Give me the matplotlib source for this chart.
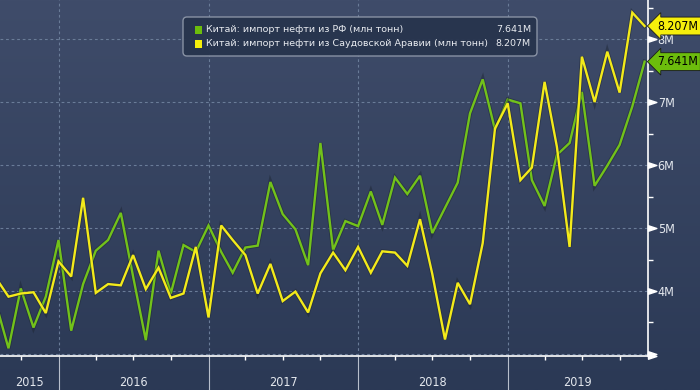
import numpy as np
import pandas as pd
import matplotlib
matplotlib.use("Agg")
import matplotlib.pyplot as plt
import matplotlib.dates as mdates
import matplotlib.patheffects as pe
from matplotlib import font_manager
from matplotlib.patches import FancyBboxPatch, Rectangle
from matplotlib.path import Path
from matplotlib.transforms import blended_transform_factory, IdentityTransform

plt.rcParams['font.family'] = ['DejaVu Sans']
has_cond = any(f.name == 'DejaVu Sans' and str(f.stretch) in ('condensed', 'semi-condensed', '300', '400')
               and str(f.stretch) != 'normal' for f in font_manager.fontManager.ttflist)
if has_cond:
    AX_FONT = dict(family='DejaVu Sans', stretch='condensed')
    AX_SIZE, TAG_SIZE = 9, 8.8
else:
    AX_FONT = dict(family='DejaVu Sans')
    AX_SIZE, TAG_SIZE = 8.5, 7.8

# ---------------- data ----------------
months = pd.date_range('2015-08-01', '2019-12-01', freq='MS')
russia = [3.81, 3.09, 4.04, 3.42, 3.91,
          4.81, 3.37, 4.11, 4.64, 4.81, 5.24, 4.23, 3.22, 4.64, 3.96, 4.73, 4.62,
          5.04, 4.62, 4.29, 4.69, 4.72, 5.73, 5.22, 4.98, 4.41, 6.35, 4.65, 5.11,
          5.03, 5.58, 5.05, 5.80, 5.54, 5.83, 4.92, 5.32, 5.72, 6.82, 7.36, 6.56,
          7.04, 6.98, 5.76, 5.35, 6.16, 6.35, 7.16, 5.67, 5.99, 6.32, 6.93, 7.641]
saudi = [4.21, 3.91, 3.96, 3.98, 3.65,
         4.47, 4.23, 5.48, 3.97, 4.11, 4.09, 4.57, 4.03, 4.37, 3.89, 3.96, 4.70,
         3.58, 5.04, 4.81, 4.57, 3.96, 4.43, 3.84, 3.99, 3.66, 4.28, 4.61, 4.33,
         4.70, 4.29, 4.63, 4.61, 4.40, 5.14, 4.27, 3.23, 4.13, 3.79, 4.76, 6.58,
         6.98, 5.76, 5.96, 7.32, 6.29, 4.70, 7.72, 7.00, 7.80, 7.15, 8.42, 8.207]
series_names = ['Китай: импорт нефти из РФ (млн тонн)',
                'Китай: импорт нефти из Саудовской Аравии (млн тонн)']
series_colors = ['#72c21a', '#f3ea1a']
tag_colors = ['#6cbd0c', '#f6ef0c']
year_labels = ['2015', '2016', '2017', '2018', '2019']
ytick_vals = [3, 4, 5, 6, 7, 8]
ytick_labels = ['', '4M', '5M', '6M', '7M', '8M']

W, H = 700, 390
fig = plt.figure(figsize=(W / 100, H / 100), dpi=100)

# gradient background
bg = fig.add_axes([0, 0, 1, 1], zorder=-10)
grad = np.linspace(0, 1, 256).reshape(-1, 1)
top = np.array([0x3f, 0x4c, 0x6a]) / 255
bot = np.array([0x2b, 0x39, 0x55]) / 255
img = top[None, None, :] * (1 - grad[:, :, None]) + bot[None, None, :] * grad[:, :, None]
bg.imshow(img, aspect='auto', extent=[0, 1, 0, 1])
bg.axis('off')

ax_right_px, ax_bottom_px = 648, 356
ax = fig.add_axes([0, (H - ax_bottom_px) / H, ax_right_px / W, ax_bottom_px / H])
ax.set_facecolor('none')

# x scale: Jan 2016 at px 58.5, 149.7 px per year
d2016 = mdates.date2num(pd.Timestamp('2016-01-01'))
ppd = 149.7 / 365.25
xl0 = d2016 - 58.5 / ppd
xl1 = d2016 + (648 - 58.5) / ppd
ax.set_xlim(xl0, xl1)
ax.set_ylim(2.968, 8.62)

x = mdates.date2num(months)
for vals, col in zip([russia, saudi], series_colors):
    ax.plot(x, vals, color=col, lw=1.7, solid_joinstyle='miter', zorder=3,
            path_effects=[pe.Stroke(linewidth=3.0, foreground='#1c2430', alpha=0.45), pe.Normal()])

# grid
grid_kw = dict(color='#6a7c98', lw=0.8, ls=(0, (2.5, 2.5)), zorder=1)
for v in ytick_vals:
    ax.axhline(v, **grid_kw)
year_starts = [mdates.date2num(pd.Timestamp(f'{y}-01-01')) for y in range(2015, 2021)]
for ys in year_starts[1:-1]:
    ax.axvline(ys, **grid_kw)

# spines
for s in ['top', 'left']:
    ax.spines[s].set_visible(False)
for s in ['right', 'bottom']:
    ax.spines[s].set_color('white')
    ax.spines[s].set_linewidth(1.2)

# y axis on right
ax.yaxis.tick_right()
ax.set_yticks(ytick_vals)
ax.set_yticklabels(ytick_labels, **AX_FONT)
ax.set_yticks(np.arange(3.5, 8.6, 1.0), minor=True)
ax.tick_params(axis='y', which='major', length=0, pad=7, labelsize=AX_SIZE, labelcolor='#e4e8ee')
ax.tick_params(axis='y', which='minor', length=3.5, width=1, color='white', direction='out')

tri = Path([(0, -0.33), (1.0, 0), (0, 0.33), (0, -0.33)],
           [Path.MOVETO, Path.LINETO, Path.LINETO, Path.CLOSEPOLY])
btr = blended_transform_factory(ax.transAxes, ax.transData)
ax.plot([1.0] * len(ytick_vals), ytick_vals, ls='none', marker=tri, ms=12,
        color='white', transform=btr, clip_on=False, zorder=5)
ax.plot([1.0], [0], ls='none', marker=tri, ms=12, color='white',
        transform=ax.transAxes, clip_on=False, zorder=5)

# x axis ticks
quarters = [mdates.date2num(d) for d in pd.date_range('2015-10-01', '2019-10-01', freq='QS')]
ax.set_xticks([q for q in quarters if xl0 < q < xl1 and q not in year_starts], minor=True)
ax.set_xticks([ys for ys in year_starts if xl0 < ys < xl1])
ax.set_xticklabels([])
ax.tick_params(axis='x', which='minor', length=3, width=1, color='white', direction='out')
ax.tick_params(axis='x', which='major', length=26, width=0.8, color='#b8bfcc', direction='out')

btx = blended_transform_factory(ax.transData, ax.transAxes)
for i, lab in enumerate(year_labels):
    a = max(year_starts[i], xl0)
    b = min(year_starts[i + 1], xl1)
    ax.text((a + b) / 2, -27 / ax_bottom_px, lab, transform=btx, ha='center', va='center',
            fontsize=AX_SIZE, color='#e4e8ee', clip_on=False, **AX_FONT)

# value tags on right
for vals, tc in zip([russia, saudi], tag_colors):
    ax.text(1 + 9 / ax_right_px, vals[-1], f'{vals[-1]:.3f}M', transform=btr,
            ha='left', va='center', fontsize=TAG_SIZE, color='black',
            clip_on=False, zorder=6,
            bbox=dict(boxstyle='larrow,pad=0.2', fc=tc, ec='#1a1a1a', lw=0.6), **AX_FONT)

# legend box (pixel coordinates)
idt = IdentityTransform()
box = FancyBboxPatch((183, H - 56), 354, 39, boxstyle='round,pad=0,rounding_size=4',
                     transform=idt, fc='#27344d', ec='#8d96a8', lw=1.0, alpha=0.95)
fig.add_artist(box)
for i, (name, col, vals) in enumerate(zip(series_names, tag_colors, [russia, saudi])):
    yc = H - (30 + 14 * i)
    fig.add_artist(Rectangle((195, yc - 4), 7, 8, transform=idt, fc=col, ec='none'))
    fig.text(206 / W, yc / H, name, ha='left', va='center', fontsize=6.8, color='#e8ebf0')
    fig.text(531 / W, yc / H, f'{vals[-1]:.3f}M', ha='right', va='center', fontsize=6.8,
             color='#e8ebf0')

fig.savefig('out.png', dpi=100)
